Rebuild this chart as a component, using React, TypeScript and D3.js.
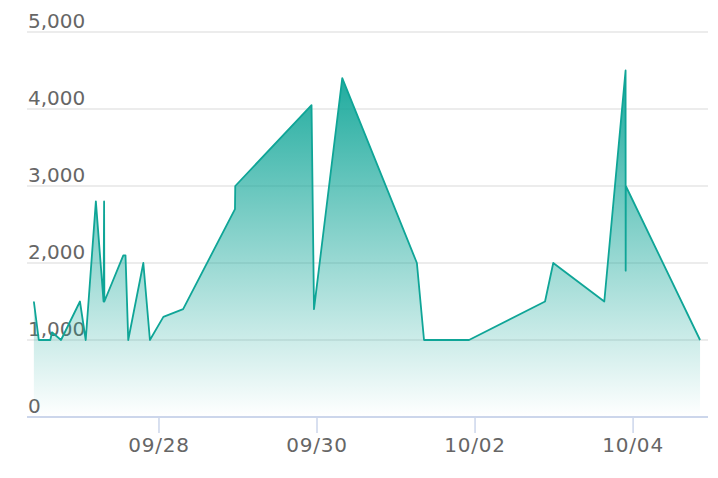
import React from "react";
import * as d3 from "d3";

const times: string[] = [
  "2020-09-26T10:00Z", "2020-09-26T11:30Z", "2020-09-26T15:00Z", "2020-09-26T15:30Z",
  "2020-09-26T18:15Z", "2020-09-27T00:00Z", "2020-09-27T01:45Z", "2020-09-27T04:50Z",
  "2020-09-27T07:10Z", "2020-09-27T07:20Z", "2020-09-27T07:25Z", "2020-09-27T13:10Z",
  "2020-09-27T13:50Z", "2020-09-27T14:40Z", "2020-09-27T19:15Z", "2020-09-27T21:15Z",
  "2020-09-28T01:20Z", "2020-09-28T07:20Z", "2020-09-28T23:05Z", "2020-09-28T23:10Z",
  "2020-09-29T22:20Z", "2020-09-29T23:05Z", "2020-09-30T07:40Z", "2020-10-01T06:20Z",
  "2020-10-01T08:30Z", "2020-10-01T22:10Z", "2020-10-02T21:15Z", "2020-10-02T23:45Z",
  "2020-10-03T15:15Z", "2020-10-03T21:43Z", "2020-10-03T21:45Z", "2020-10-03T21:47Z",
  "2020-10-04T20:20Z",
];
const values: number[] = [
  1500, 1000, 1000, 1100,
  1000, 1500, 1000, 2800,
  1500, 2800, 1500, 2100,
  2100, 1000, 2000, 1000,
  1300, 1400, 2700, 3000,
  4050, 1400, 4400, 2000,
  1000, 1000, 1500, 2000,
  1500, 4500, 1900, 3000,
  1000,
];
const yTicks: number[] = [0, 1000, 2000, 3000, 4000, 5000];
const xTickDates: string[] = ["2020-09-28T00:00Z", "2020-09-30T00:00Z", "2020-10-02T00:00Z", "2020-10-04T00:00Z"];
const xDomain: string[] = ["2020-09-26T07:55Z", "2020-10-04T22:45Z"];

const W = 718, H = 478;
const plotLeft = 27, plotRight = 708, plotTop = 32, plotBottom = 417;

export default function App() {
  const data = times.map((t, i) => ({ t: new Date(t), v: values[i] }));
  const x = d3.scaleUtc().domain(xDomain.map((d) => new Date(d))).range([plotLeft, plotRight]);
  const y = d3.scaleLinear().domain([0, 5000]).range([plotBottom, plotTop]);
  const area = d3.area<{ t: Date; v: number }>().x((d) => x(d.t)).y0(y(0)).y1((d) => y(d.v));
  const line = d3.line<{ t: Date; v: number }>().x((d) => x(d.t)).y((d) => y(d.v));
  const fmt = d3.format(",");
  const tfmt = d3.utcFormat("%m/%d");
  const font = "'DejaVu Sans', Verdana, sans-serif";
  return (
    <svg width={W} height={H} style={{ position: "absolute", left: 0, top: 0 }}>
      <defs>
        <linearGradient id="fillGrad" x1="0" y1="0" x2="0" y2="1">
          <stop offset="0" stopColor="#0fa597" stopOpacity={0.95} />
          <stop offset="1" stopColor="#0fa597" stopOpacity={0} />
        </linearGradient>
      </defs>
      <rect width={W} height={H} fill="#fff" />
      {yTicks.filter((t) => t > 0).map((t) => (
        <line key={t} x1={plotLeft} x2={plotRight} y1={y(t)} y2={y(t)} stroke="#e6e6e6" strokeWidth={1.5} />
      ))}
      {yTicks.map((t) => (
        <text key={t} x={28} y={y(t) - 4} fontFamily={font} fontSize={20} fill="#666">
          {fmt(t)}
        </text>
      ))}
      <path d={area(data) || ""} fill="url(#fillGrad)" />
      <path d={line(data) || ""} fill="none" stroke="#0fa597" strokeWidth={1.8} strokeLinejoin="round" />
      <line x1={plotLeft} x2={plotRight} y1={plotBottom} y2={plotBottom} stroke="#ccd6eb" strokeWidth={2} />
      {xTickDates.map((d) => {
        const dt = new Date(d);
        const px = x(dt);
        return (
          <g key={d}>
            <line x1={px} x2={px} y1={plotBottom} y2={plotBottom + 16} stroke="#ccd6eb" strokeWidth={1.5} />
            <text x={px} y={452} textAnchor="middle" fontFamily={font} fontSize={20} letterSpacing={0.8} fill="#666">
              {tfmt(dt)}
            </text>
          </g>
        );
      })}
    </svg>
  );
}
